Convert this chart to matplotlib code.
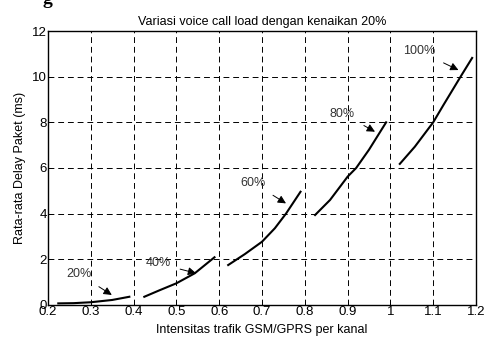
import matplotlib
matplotlib.use("Agg")
import matplotlib.pyplot as plt

# curves (x = traffic intensity, y = delay in ms)
x20 = [0.224, 0.26, 0.30, 0.35, 0.39]
y20 = [0.07, 0.08, 0.12, 0.22, 0.36]
x40 = [0.425, 0.46, 0.50, 0.543, 0.589]
y40 = [0.36, 0.64, 0.95, 1.39, 2.09]
x60 = [0.621, 0.66, 0.70, 0.73, 0.756, 0.790]
y60 = [1.75, 2.23, 2.77, 3.36, 4.0, 4.96]
x80 = [0.824, 0.859, 0.90, 0.92, 0.95, 0.990]
y80 = [3.94, 4.6, 5.62, 6.0, 6.8, 8.0]
x100 = [1.022, 1.057, 1.10, 1.124, 1.164, 1.191]
y100 = [6.18, 6.93, 8.0, 8.76, 10.0, 10.82]

labels = ["20%", "40%", "60%", "80%", "100%"]
# (arrow head on curve, text position)
heads = [(0.349, 0.44), (0.546, 1.39), (0.756, 4.45), (0.964, 7.59), (1.159, 10.29)]
texts = [(0.273, 1.35), (0.457, 1.82), (0.679, 5.35), (0.888, 8.38), (1.067, 11.12)]

xticks = [0.2, 0.3, 0.4, 0.5, 0.6, 0.7, 0.8, 0.9, 1.0, 1.1, 1.2]
xticklabels = ["0.2", "0.3", "0.4", "0.5", "0.6", "0.7", "0.8", "0.9", "1", "1.1", "1.2"]
yticks = [0, 2, 4, 6, 8, 10, 12]

plt.rcParams["font.family"] = ["Liberation Sans", "DejaVu Sans"]
plt.rcParams["font.size"] = 9

fig = plt.figure(figsize=(4.86, 3.37), dpi=100)
ax = fig.add_axes([0.0988, 0.095, 0.8806, 0.813])

for xs, ys in [(x20, y20), (x40, y40), (x60, y60), (x80, y80), (x100, y100)]:
    ax.plot(xs, ys, color="black", lw=1.5, zorder=3)

for lab, hd, tx in zip(labels, heads, texts):
    ax.annotate(lab, xy=hd, xytext=tx, ha="center", va="center", fontsize=9,
                color="#333333",
                arrowprops=dict(arrowstyle="-|>", color="black", lw=0.7,
                                mutation_scale=12, shrinkA=5, shrinkB=0))

ax.set_xlim(0.2, 1.2)
ax.set_ylim(0, 12)
ax.set_xticks(xticks)
ax.set_xticklabels(xticklabels)
ax.set_yticks(yticks)
ax.tick_params(direction="in", length=3, width=0.6, pad=1, labelsize=9.5)
ax.grid(True, color="black", lw=0.7, linestyle=(0, (6, 4)))
for s in ax.spines.values():
    s.set_linewidth(1.0)

ax.set_title("Variasi voice call load dengan kenaikan 20%", fontsize=9, pad=4)
ax.set_xlabel("Intensitas trafik GSM/GPRS per kanal", fontsize=9, labelpad=4)
ax.set_ylabel("Rata-rata Delay Paket (ms)", fontsize=9, labelpad=4)

# cropped caption fragment at the top edge
fig.text(0.098, 1.0, "g", fontsize=14, fontweight="bold", family="Liberation Serif",
         ha="center", va="center")

fig.savefig("out.png", dpi=100)
